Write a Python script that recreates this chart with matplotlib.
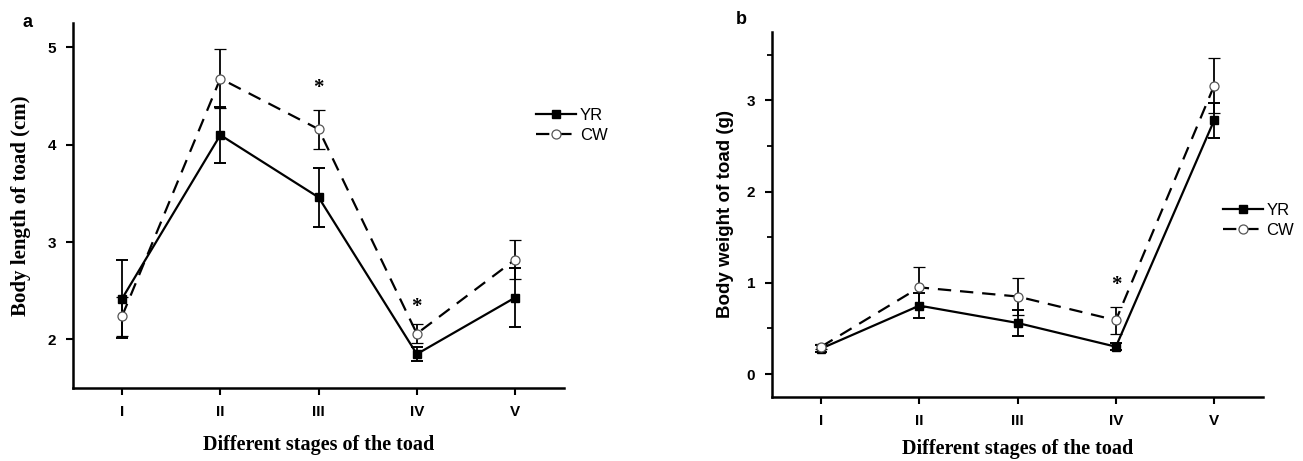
import numpy as np
import matplotlib
matplotlib.use('Agg')
import matplotlib.pyplot as plt
from matplotlib.lines import Line2D

stages = ['I', 'II', 'III', 'IV', 'V']

# panel a: body length (cm)
len_yr = [2.42, 4.10, 3.46, 1.85, 2.43]
len_yr_err = [0.40, 0.29, 0.30, 0.07, 0.30]
len_cw = [2.24, 4.68, 4.16, 2.06, 2.82]
len_cw_err = [0.20, 0.30, 0.20, 0.10, 0.20]
len_star_stages = [3, 4]
len_star_y = [4.58, 2.33]

# panel b: body weight (g)
wt_yr = [0.28, 0.75, 0.56, 0.30, 2.78]
wt_yr_err = [0.04, 0.14, 0.14, 0.04, 0.19]
wt_cw = [0.30, 0.95, 0.85, 0.59, 3.16]
wt_cw_err = [0.03, 0.22, 0.20, 0.15, 0.30]
wt_star_stages = [4]
wt_star_y = [0.98]

SERIF = 'Liberation Serif'
SANS = 'Liberation Sans'

YR_STYLE = dict(color='black', lw=1.6, marker='s', ms=6, mfc='black', mec='black')
CW_STYLE = dict(color='black', lw=1.6, ls=(0, (6, 4)), marker='o', ms=6.5,
                mfc='white', mec='#555555', mew=0.9)


def draw_panel(ax, yr, yr_err, cw, cw_err, star_x, star_y, xpad):
    x = np.arange(1, len(stages) + 1)
    ax.errorbar(x, yr, yerr=yr_err, capsize=4, capthick=1.4, elinewidth=1.3,
                zorder=3, **YR_STYLE)
    ax.errorbar(x, cw, yerr=cw_err, capsize=4, capthick=1.4, elinewidth=1.3,
                zorder=3, **CW_STYLE)
    for sx, sy in zip(star_x, star_y):
        ax.text(sx, sy, '*', ha='center', va='center', fontsize=15,
                fontweight='bold', family=SERIF)
    ax.set_xlim(0.5, 5.5)
    ax.set_xticks(x)
    ax.set_xticklabels(stages)
    for s in ['top', 'right']:
        ax.spines[s].set_visible(False)
    for s in ['left', 'bottom']:
        ax.spines[s].set_linewidth(1.8)
    ax.tick_params(direction='out', length=5, width=1.5, labelsize=11, pad=7)
    ax.set_xlabel('Different stages of the toad', family=SERIF,
                  fontweight='bold', fontsize=14.5, labelpad=xpad)


def add_legend(ax, anchor):
    handles = [Line2D([], [], **YR_STYLE), Line2D([], [], **CW_STYLE)]
    ax.legend(handles, ['YR', 'CW'], loc='upper left', bbox_to_anchor=anchor,
              frameon=False, prop={'family': SANS, 'size': 12},
              handlelength=2.4, handletextpad=0.2, borderaxespad=0,
              labelspacing=0.3)


def bold_ticks(ax):
    for lab in ax.get_xticklabels() + ax.get_yticklabels():
        lab.set_family(SANS)
        lab.set_fontweight('bold')


fig = plt.figure(figsize=(13.03, 4.61), dpi=100)

ax1 = fig.add_axes([0.056, 0.158, 0.377, 0.792])
draw_panel(ax1, len_yr, len_yr_err, len_cw, len_cw_err, len_star_stages,
           len_star_y, 12)
ax1.set_ylim(1.5, 5.25)
ax1.set_yticks([2, 3, 4, 5])
bold_ticks(ax1)
ax1.set_ylabel('Body length of toad (cm)', family=SERIF, fontweight='bold',
               fontsize=15, labelpad=12)
add_legend(ax1, (0.93, 0.785))
fig.text(0.021, 0.952, 'a', family=SANS, fontweight='bold', fontsize=13,
         ha='center', va='center')

ax2 = fig.add_axes([0.5925, 0.139, 0.377, 0.792])
draw_panel(ax2, wt_yr, wt_yr_err, wt_cw, wt_cw_err, wt_star_stages,
           wt_star_y, 8)
ax2.set_ylim(-0.25, 3.75)
ax2.set_yticks([0, 1, 2, 3])
ax2.set_yticks([0.5, 1.5, 2.5, 3.5], minor=True)
ax2.tick_params(which='minor', direction='out', length=3.5, width=1.3)
bold_ticks(ax2)
ax2.set_ylabel('Body weight of toad (g)', family=SANS, fontweight='bold',
               fontsize=13.5, labelpad=9)
add_legend(ax2, (0.905, 0.55))
fig.text(0.569, 0.957, 'b', family=SANS, fontweight='bold', fontsize=13,
         ha='center', va='center')

fig.savefig('out.png', dpi=100)
